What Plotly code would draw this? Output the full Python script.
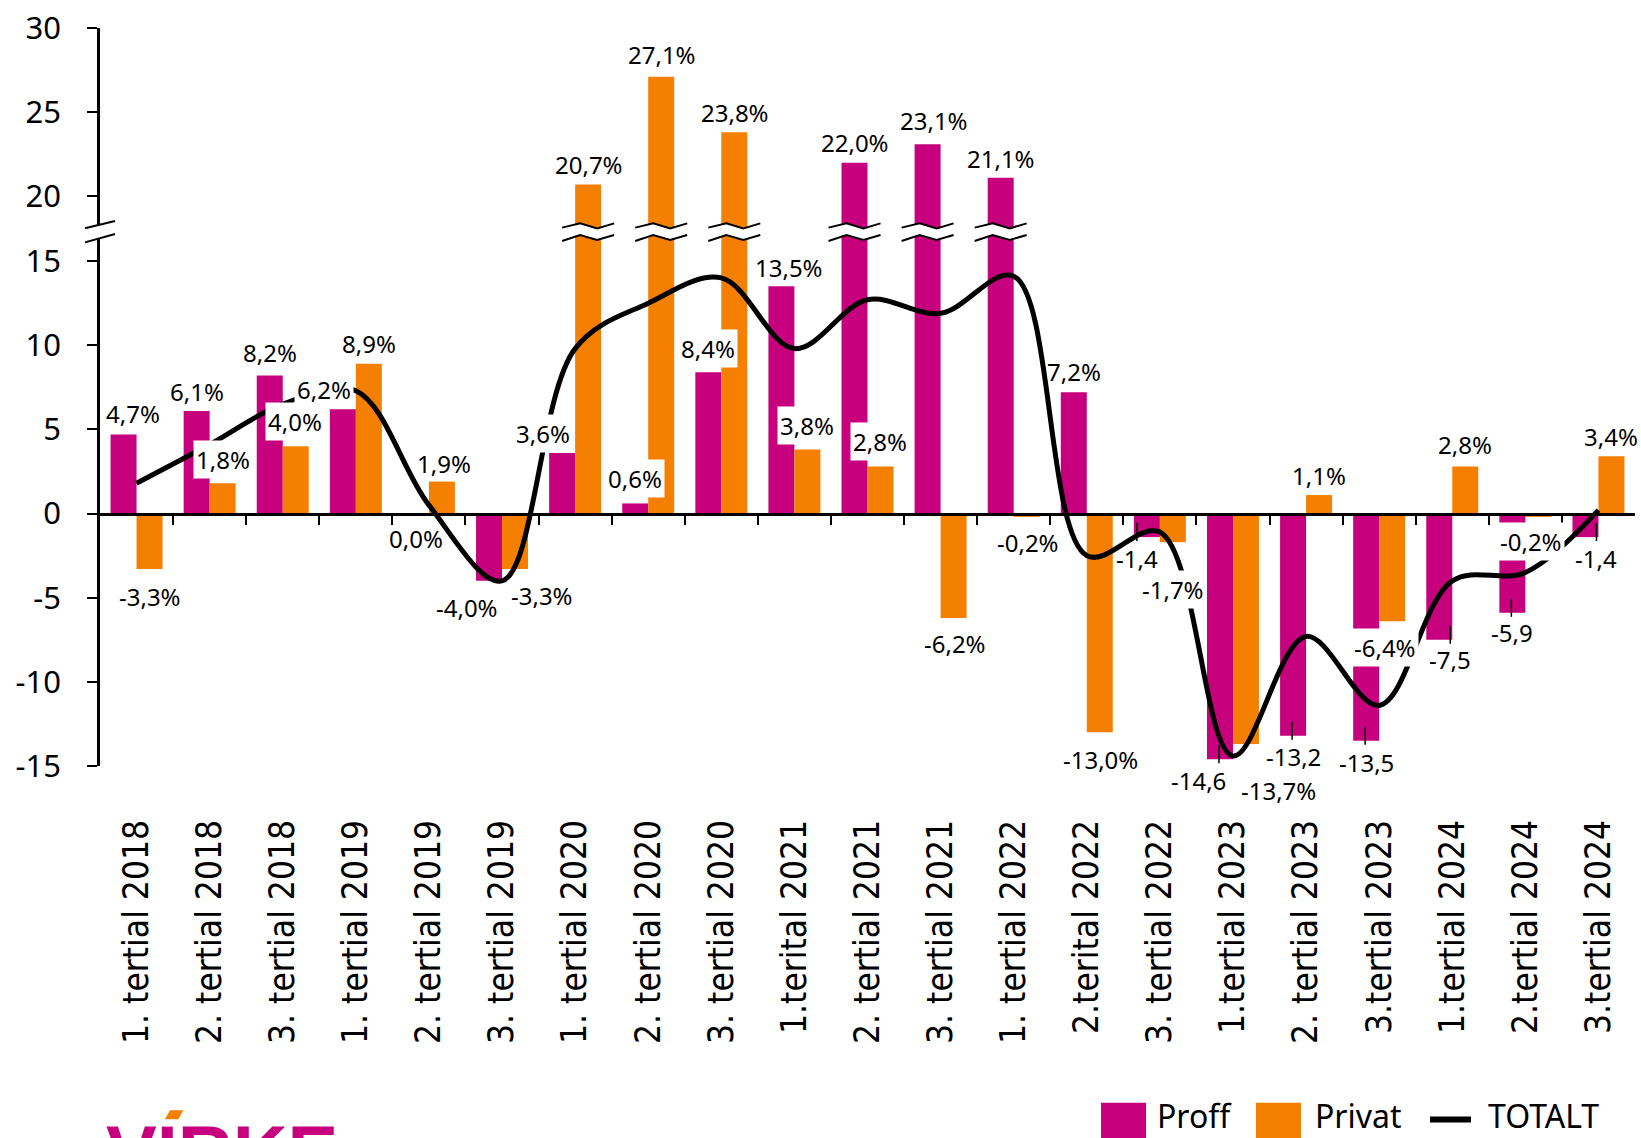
import plotly.graph_objects as go

# ---------------- data ----------------
categories = ["1. tertial 2018", "2. tertial 2018", "3. tertial 2018",
              "1. tertial 2019", "2. tertial 2019", "3. tertial 2019",
              "1. tertial 2020", "2. tertial 2020", "3. tertial 2020",
              "1.terital 2021", "2. tertial 2021", "3. tertial 2021",
              "1. tertial 2022", "2.terital 2022", "3. tertial 2022",
              "1.tertial 2023", "2. tertial 2023", "3.tertial 2023",
              "1.tertial 2024", "2.tertial 2024", "3.tertial 2024"]
proff = [4.7, 6.1, 8.2, 6.2, 0.0, -4.0, 3.6, 0.6, 8.4, 13.5, 22.0, 23.1, 21.1,
         7.2, -1.4, -14.6, -13.2, -13.5, -7.5, -5.9, -1.4]
privat = [-3.3, 1.8, 4.0, 8.9, 1.9, -3.3, 20.7, 27.1, 23.8, 3.8, 2.8, -6.2, -0.2,
          -13.0, -1.7, -13.7, 1.1, -6.4, 2.8, -0.2, 3.4]
totalt = [1.8, 4.1, 6.5, 7.3, 0.5, -4.0, 9.8, 12.5, 14.0, 9.8, 12.7, 11.9, 14.1,
          -2.5, -1.1, -14.4, -7.3, -11.4, -4.0, -3.5, 0.2]
y_ticks = [-15, -10, -5, 0, 5, 10, 15, 20, 25, 30]

# ---------------- style ----------------
MAGENTA = "#C7007D"
ORANGE = "#F47F00"
LABEL_FONT = dict(family="Noto Sans", size=24, color="black")
BREAK_AT, BREAK_SHIFT, BREAK_POS = 17.0, 1.15, 16.75
BARGAP = 0.289
HALF = (1 - BARGAP) / 4  # offset of each bar centre from category centre

# label offsets (px, dy positive = downwards), white box flag, % suffix
proff_off = [(9, -21), (0, -19), (0, -23), (-19, -20), (0, 25), (-22, 27), (-19, -19),
             (0, -25), (0, -24), (8, -19), (0, -20), (6, -24), (0, -19.5), (0, -21),
             (-9.5, 21), (-21.6, 21), (0, 20.5), (0, 21.5), (11, 20), (0, 19.5), (11, 21)]
proff_box = [0, 0, 0, 1, 0, 0, 1, 1, 1, 0, 0, 0, 0, 0, 0, 0, 0, 0, 0, 0, 0]
proff_pct = [1] * 14 + [0] * 7
leader_dx = [None] * 14 + [-10, -1, -1, -1, 11, -1, 11]
privat_off = [(0, 27.5), (0, -24), (-1, -25), (0, -20), (2, -18), (26.5, 26), (1, -20),
              (1, -22), (1, -20), (0, -24), (0, -24.5), (1, 25.5), (1, 25.5), (1, 27),
              (0, 47.5), (33, 46), (0, -20), (-7, 26), (0, -21.5), (-7, 25), (0, -19.5)]
privat_box = [0, 1, 1, 0, 0, 0, 0, 0, 0, 1, 1, 0, 0, 0, 1, 0, 0, 1, 0, 1, 0]


def disp(v):
    return v - BREAK_SHIFT if v > BREAK_AT else v


def fmt(v, pct=True):
    return f"{v:.1f}".replace(".", ",") + ("%" if pct else "")


idx = list(range(len(categories)))

fig = go.Figure()
fig.add_trace(go.Bar(x=idx, y=[disp(v) for v in proff], name="Proff",
                     marker=dict(color=MAGENTA, line=dict(width=0)), offsetgroup="a"))
fig.add_trace(go.Bar(x=idx, y=[disp(v) for v in privat], name="Privat",
                     marker=dict(color=ORANGE, line=dict(width=0)), offsetgroup="b"))
fig.add_trace(go.Scatter(x=idx, y=totalt, name="TOTALT", mode="lines",
                         line=dict(color="black", width=5, shape="spline", smoothing=1.0)))
fig.add_trace(go.Scatter(x=[0], y=[0], xaxis="x2", mode="markers",
                         marker=dict(opacity=0), showlegend=False, hoverinfo="skip"))

annotations = []
shapes = []

# data labels
for i in idx:
    for vals, offs, boxes, sign in ((proff, proff_off, proff_box, -1),
                                    (privat, privat_off, privat_box, 1)):
        v = vals[i]
        dx, dy = offs[i]
        pct = proff_pct[i] if sign == -1 else 1
        annotations.append(dict(
            x=i + sign * HALF, y=disp(v), xref="x", yref="y", text=fmt(v, pct),
            showarrow=False, xanchor="center", yanchor="middle", xshift=dx, yshift=-dy,
            font=LABEL_FONT, bgcolor="white" if boxes[i] else "rgba(0,0,0,0)",
            borderpad=2))
    if leader_dx[i] is not None:
        shapes.append(dict(type="line", xref="x", yref="y", xsizemode="pixel",
                           ysizemode="pixel", xanchor=i - HALF, yanchor=disp(proff[i]),
                           x0=leader_dx[i], x1=leader_dx[i], y0=-4, y1=14,
                           line=dict(color="black", width=1.5), layer="above"))

# break marks on bars crossing the axis break
band = "M -26,4 L -8,8.3 L 9,3.3 L 26,8.3 L 26,-3.3 L 9,-8.3 L -8,-3.3 L -26,-9.3 Z"
top = "M -26,4 L -8,8.3 L 9,3.3 L 26,8.3"
bot = "M -26,-9.3 L -8,-3.3 L 9,-8.3 L 26,-3.3"
for i in idx:
    for vals, sign in ((proff, -1), (privat, 1)):
        if vals[i] > BREAK_AT:
            common = dict(type="path", xref="x", yref="y", xsizemode="pixel", ysizemode="pixel",
                          xanchor=i + sign * HALF, yanchor=BREAK_POS, layer="above")
            shapes.append(dict(common, path=band, fillcolor="white", line=dict(width=0)))
            shapes.append(dict(common, path=top, line=dict(color="black", width=2)))
            shapes.append(dict(common, path=bot, line=dict(color="black", width=2)))

# axis break on y axis
ab = dict(type="path", xref="paper", yref="y", xsizemode="pixel", ysizemode="pixel",
          xanchor=0, yanchor=BREAK_POS, layer="above")
shapes.append(dict(ab, path="M -15,3.3 L 15,10.7 L 15,-2.3 L -15,-10.7 Z",
                   fillcolor="white", line=dict(width=0)))
shapes.append(dict(ab, path="M -15,3.3 L 15,10.7", line=dict(color="black", width=2)))
shapes.append(dict(ab, path="M -15,-10.7 L 15,-2.3", line=dict(color="black", width=2)))

# pixel -> paper helpers for legend / logo
PL, PR, PT, PB = 100, 1635, 25, 766


def xp(X):
    return (X - PL) / (PR - PL)


def yp(Y):
    return (PB - Y) / (PB - PT)


# custom legend
for x0, col in ((1101, MAGENTA), (1256, ORANGE)):
    shapes.append(dict(type="rect", xref="paper", yref="paper", x0=xp(x0), x1=xp(x0 + 45),
                       y0=yp(1104), y1=yp(1160), fillcolor=col, line=dict(width=0)))
shapes.append(dict(type="line", xref="paper", yref="paper", x0=xp(1430), x1=xp(1471),
                   y0=yp(1121), y1=yp(1121), line=dict(color="black", width=6)))
for X, t in ((1155, "Proff"), (1313, "Privat"), (1486, "TOTALT")):
    annotations.append(dict(x=xp(X), y=yp(1117), xref="paper", yref="paper", text=t,
                            showarrow=False, xanchor="left", yanchor="middle",
                            font=dict(family="Noto Sans", size=32, color="black")))

# logo
annotations.append(dict(x=xp(104), y=yp(1109), xref="paper", yref="paper", text="<b>VIRKE</b>",
                        showarrow=False, xanchor="left", yanchor="top",
                        font=dict(family="Liberation Sans", size=76, color=MAGENTA)))
shapes.append(dict(type="path", xref="paper", yref="paper",
                   path=f"M {xp(165)},{yp(1120.7)} L {xp(170)},{yp(1111.7)} L {xp(183.3)},{yp(1111.7)} "
                        f"L {xp(178.3)},{yp(1120.7)} Z",
                   fillcolor=ORANGE, line=dict(width=0)))

ymin, ymax = -15, disp(30)
fig.update_layout(
    width=1641, height=1138,
    margin=dict(l=PL, r=1641 - PR, t=PT, b=1138 - PB),
    plot_bgcolor="white", paper_bgcolor="white",
    barmode="group", bargap=BARGAP, bargroupgap=0, showlegend=False,
    xaxis=dict(range=[-0.5, 20.5], tickmode="array", tickvals=idx, ticktext=categories,
               tickangle=-90, tickfont=dict(family="DejaVu Sans Condensed, DejaVu Sans", size=35,
                                            color="black"),
               showline=False, ticks="", showgrid=False, zeroline=False, ticklabelstandoff=46),
    xaxis2=dict(overlaying="x", anchor="free", position=(0 - ymin) / (ymax - ymin),
                range=[-0.5, 20.5], showline=True, linecolor="black", linewidth=2.5,
                ticks="outside", tickmode="array", tickvals=[i + 0.5 for i in idx[:-1]],
                ticklen=10, tickwidth=2, tickcolor="black", showticklabels=False,
                showgrid=False, zeroline=False, side="bottom"),
    yaxis=dict(range=[ymin, ymax], tickmode="array", tickvals=[disp(t) for t in y_ticks],
               ticktext=[str(t) for t in y_ticks],
               tickfont=dict(family="Noto Sans", size=31, color="black"),
               showline=True, linecolor="black", linewidth=2.5, ticks="outside",
               ticklen=10, tickwidth=2, tickcolor="black", showgrid=False, zeroline=False,
               ticklabelstandoff=20),
    annotations=annotations, shapes=shapes,
)

fig.write_html("out.html", config={"displayModeBar": False},
               post_script="document.body.style.margin='0px';document.body.style.overflow='hidden';")
